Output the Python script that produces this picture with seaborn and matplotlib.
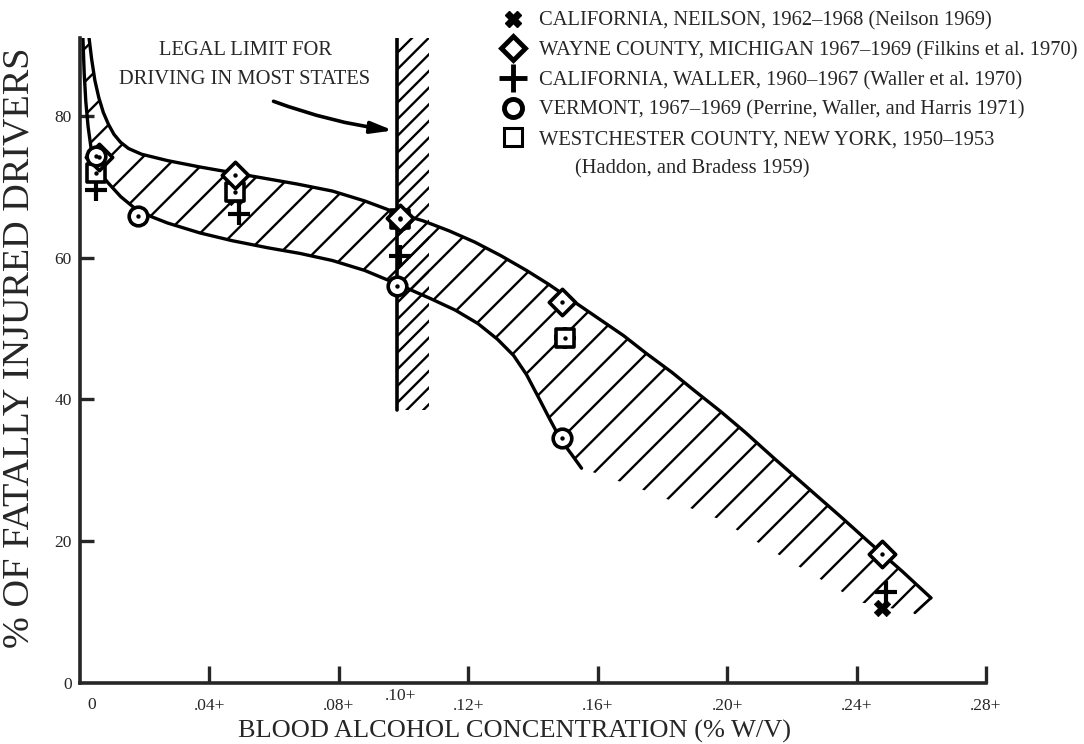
import numpy as np
import pandas as pd
import matplotlib
matplotlib.use('Agg')
import matplotlib.pyplot as plt
from matplotlib.lines import Line2D
import seaborn as sns

neilson_x = [0.005, 0.048, 0.099, 0.149, 0.248]
neilson_y = [72.0, 68.5, 65.0, 48.5, 10.6]
wayne_x = [0.006, 0.048, 0.099, 0.149, 0.248]
wayne_y = [74.2, 71.6, 65.6, 53.7, 18.2]
waller_x = [0.005, 0.049, 0.099, 0.150, 0.249]
waller_y = [69.6, 66.2, 60.3, 48.7, 12.8]
vermont_x = [0.005, 0.018, 0.098, 0.149]
vermont_y = [74.4, 65.9, 56.0, 34.5]
westch_x = [0.005, 0.048, 0.099, 0.150]
westch_y = [72.0, 69.2, 65.4, 48.7]

# envelope of the shaded band
upper_x = [0.0028, 0.0036, 0.0046, 0.0058, 0.0072, 0.0088, 0.0105, 0.0125, 0.015,
           0.019, 0.027, 0.037, 0.047, 0.057, 0.067, 0.078, 0.088, 0.098, 0.106,
           0.114, 0.122, 0.130, 0.138, 0.145, 0.152, 0.160, 0.168, 0.175, 0.183,
           0.190, 0.198, 0.2055, 0.215, 0.225, 0.235, 0.244, 0.254, 0.263]
upper_y = [91, 88, 85, 82.6, 80.5, 78.8, 77.4, 76.3, 75.4,
           74.6, 73.7, 72.8, 72.0, 71.2, 70.4, 69.4, 68.0, 66.3, 65.2,
           63.8, 62.2, 60.3, 58.2, 56.2, 54.0, 51.5, 49.0, 46.5, 43.8,
           41.2, 38.3, 35.4, 31.5, 27.5, 23.5, 19.8, 15.8, 12.0]
lower_x = [0.0009, 0.0013, 0.0018, 0.0025, 0.0034, 0.005, 0.0065, 0.0086, 0.0126,
           0.0166, 0.022, 0.027, 0.037, 0.047, 0.058, 0.068, 0.078, 0.088, 0.098,
           0.108, 0.116, 0.123, 0.129, 0.134, 0.138, 0.1418, 0.1452, 0.1486,
           0.152, 0.155]
lower_y = [91, 86, 82, 78.5, 75.5, 73.2, 71.8, 70.6, 68.6,
           67.1, 65.8, 64.9, 63.5, 62.4, 61.4, 60.6, 59.6, 58.2, 56.3,
           54.3, 52.6, 50.7, 48.5, 46.2, 43.5, 40.2, 37.2, 34.3,
           32.2, 30.3]
tail_x = [0.155, 0.172, 0.197, 0.223, 0.241, 0.258]
tail_y = [30.3, 27.6, 23.2, 16.2, 11.4, 9.9]

legal_limit = 0.098
bar_width = 0.010
bar_bottom = 38.5

xticks = [0.04, 0.08, 0.12, 0.16, 0.20, 0.24, 0.28]
xtick_labels = ['.04+', '.08+', '.12+', '.16+', '.20+', '.24+', '.28+']
yticks = [0, 20, 40, 60, 80]

legend_labels = [
    'CALIFORNIA, NEILSON, 1962\u20131968 (Neilson 1969)',
    'WAYNE COUNTY, MICHIGAN 1967\u20131969 (Filkins et al. 1970)',
    'CALIFORNIA, WALLER, 1960\u20131967 (Waller et al. 1970)',
    'VERMONT, 1967\u20131969 (Perrine, Waller, and Harris 1971)',
    'WESTCHESTER COUNTY, NEW YORK, 1950\u20131953',
]

sns.set_style('ticks')
plt.rcParams['font.family'] = ['Liberation Serif', 'DejaVu Serif']
plt.rcParams['hatch.linewidth'] = 1.7
plt.rcParams['hatch.color'] = 'black'

fig = plt.figure(figsize=(10.84, 7.44), dpi=100)
ax = fig.add_axes([0.0738, 0.082, 0.8358, 0.867])

# shaded band
poly_x = upper_x + tail_x[::-1] + lower_x[::-1]
poly_y = upper_y + tail_y[::-1] + lower_y[::-1]
ax.fill(poly_x, poly_y, facecolor='none', edgecolor='black', hatch='/', linewidth=0)
ax.plot(upper_x, upper_y, color='black', lw=2.4, solid_joinstyle='round')
ax.plot(lower_x, lower_y, color='black', lw=2.4, solid_joinstyle='round')
ax.plot([upper_x[-1], tail_x[-1]], [upper_y[-1], tail_y[-1]], color='black', lw=2.0)

# legal limit bar
ax.fill_between([legal_limit, legal_limit + bar_width], bar_bottom, 91,
                facecolor='none', edgecolor='black', hatch='//', linewidth=0)
ax.plot([legal_limit, legal_limit], [bar_bottom, 91], color='black', lw=2.6)

# data points
ms = 180
sns.scatterplot(x=neilson_x, y=neilson_y, marker='X', s=140, color='black',
                edgecolor='black', linewidth=0.5, ax=ax, zorder=5)
sns.scatterplot(x=waller_x, y=waller_y, marker='+', s=230, color='black',
                linewidth=3, ax=ax, zorder=5)
sns.scatterplot(x=westch_x, y=westch_y, marker='s', s=ms, facecolor='white',
                edgecolor='black', linewidth=2.6, ax=ax, zorder=6)
sns.scatterplot(x=wayne_x, y=wayne_y, marker='D', s=ms, facecolor='white',
                edgecolor='black', linewidth=2.6, ax=ax, zorder=6)
sns.scatterplot(x=vermont_x, y=vermont_y, marker='o', s=ms, facecolor='white',
                edgecolor='black', linewidth=2.6, ax=ax, zorder=6)
dots_x = westch_x + wayne_x + vermont_x
dots_y = westch_y + wayne_y + vermont_y
sns.scatterplot(x=dots_x, y=dots_y, marker='o', s=10, color='black',
                linewidth=0, ax=ax, zorder=7)

# axes
ax.set_xlim(0, 0.28)
ax.set_ylim(0, 91)
sns.despine(ax=ax)
for side in ['left', 'bottom']:
    ax.spines[side].set_linewidth(2.6)
ax.set_xticks(xticks)
ax.set_xticklabels(xtick_labels, fontsize=12.5)
ax.set_yticks(yticks)
ax.set_yticklabels([str(v) for v in yticks], fontsize=12.5)
ax.tick_params(axis='x', direction='in', length=12, width=2.4, pad=11)
ax.tick_params(axis='y', direction='in', length=10, width=2.4, pad=6)
ax.yaxis.get_major_ticks()[0].tick1line.set_visible(False)
ax.text(0.0035, -0.022, '0', transform=ax.get_xaxis_transform(),
        ha='center', va='top', fontsize=12.5)
ax.text(0.099, -0.007, '.10+', transform=ax.get_xaxis_transform(),
        ha='center', va='top', fontsize=12.5)

ax.set_xlabel('BLOOD ALCOHOL CONCENTRATION (% W/V)', fontsize=19)
ax.xaxis.set_label_coords(0.48, -0.058)
ax.set_ylabel('% OF FATALLY INJURED DRIVERS', fontsize=27.5)
ax.yaxis.set_label_coords(-0.048, 0.519)

# annotation with arrow
ax.text(0.051, 87.2, 'LEGAL LIMIT FOR\nDRIVING IN MOST STATES', ha='center', va='center',
        fontsize=14.8, linespacing=1.7)
ax.annotate('', xy=(legal_limit - 0.0004, 77.9), xytext=(0.059, 82.2),
            arrowprops=dict(arrowstyle='-|>,head_length=1.3,head_width=0.35',
                            lw=2.6, color='black', connectionstyle='arc3,rad=0.06'))

# legend
handles = [
    Line2D([], [], ls='none', marker='X', ms=12, color='black'),
    Line2D([], [], ls='none', marker='D', ms=12, mfc='white', mec='black', mew=3.5),
    Line2D([], [], ls='none', marker='+', ms=20, color='black', mew=3.5),
    Line2D([], [], ls='none', marker='o', ms=13, mfc='white', mec='black', mew=3.5),
    Line2D([], [], ls='none', marker='s', ms=13, mfc='white', mec='black', mew=2.2),
]
leg = fig.legend(handles, legend_labels, loc='upper left', bbox_to_anchor=(0.453, 1.0),
                 frameon=False, fontsize=14.8, handlelength=1.0, handletextpad=0.8,
                 labelspacing=0.5, borderaxespad=0.15)
fig.text(0.530, 0.773, '(Haddon, and Bradess 1959)', fontsize=14.8, va='center')

fig.savefig('out.png', dpi=100)
